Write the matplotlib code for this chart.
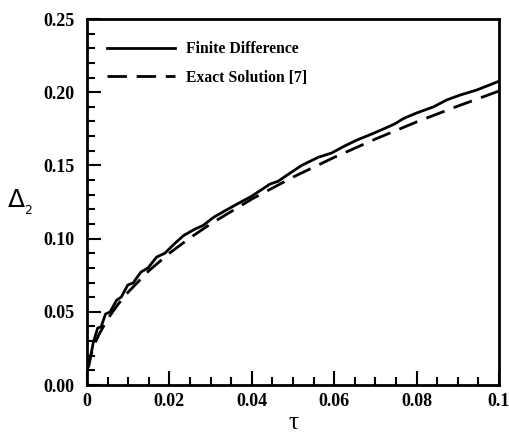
import numpy as np
import matplotlib
matplotlib.use("Agg")
from matplotlib import pyplot as plt
from matplotlib.ticker import MultipleLocator, FixedFormatter, FixedLocator

# values
tau_fd = [0.0, 0.0005, 0.0015, 0.0026, 0.0034, 0.0045, 0.0056, 0.0072, 0.0083,
          0.0099, 0.0112, 0.0131, 0.0148, 0.0169, 0.0189, 0.0209, 0.0234, 0.0262,
          0.0282, 0.0307, 0.0335, 0.0367, 0.0400, 0.0424, 0.0444, 0.0464, 0.0489,
          0.0521, 0.0561, 0.0594, 0.0622, 0.0655, 0.0691, 0.0723, 0.0748, 0.0768,
          0.0800, 0.0841, 0.0873, 0.0905, 0.0946, 0.1000]
delta_fd = [0.010, 0.0137, 0.0287, 0.0390, 0.0396, 0.0485, 0.0499, 0.0580, 0.0600,
            0.0683, 0.0697, 0.0772, 0.0799, 0.0874, 0.0900, 0.0956, 0.1020, 0.1065,
            0.1090, 0.1145, 0.1190, 0.1240, 0.1290, 0.1335, 0.1372, 0.1392, 0.1440,
            0.1500, 0.1555, 0.1585, 0.1628, 0.1673, 0.1714, 0.1753, 0.1785, 0.1820,
            0.1858, 0.1900, 0.1947, 0.1980, 0.2015, 0.2075]

tau_ex = [0.0, 0.0005, 0.001, 0.002, 0.003, 0.005, 0.0075, 0.01, 0.015, 0.02,
          0.025, 0.03, 0.04, 0.05, 0.06, 0.07, 0.08, 0.09, 0.1]
delta_ex = [0.010, 0.016, 0.021, 0.029, 0.035, 0.045, 0.055, 0.0635, 0.078, 0.090,
            0.1005, 0.110, 0.127, 0.142, 0.1555, 0.168, 0.1797, 0.1905, 0.2008]

x_ticks = [0, 0.02, 0.04, 0.06, 0.08, 0.1]
x_labels = ["0", "0.02", "0.04", "0.06", "0.08", "0.1"]
y_ticks = [0.0, 0.05, 0.10, 0.15, 0.20, 0.25]
y_labels = ["0.00", "0.05", "0.10", "0.15", "0.20", "0.25"]

serif = "Liberation Serif"

fig = plt.figure(figsize=(5.1, 4.34), dpi=100)
ax = fig.add_axes([87 / 510, 1 - 385 / 434, 412 / 510, 366 / 434])

ax.plot(tau_fd, delta_fd, color="black", lw=2.0, label="Finite Difference")
ax.plot(tau_ex, delta_ex, color="black", lw=2.0, ls=(0, (7, 3.5)), label="Exact Solution [7]")

ax.set_xlim(0, 0.1)
ax.set_ylim(0, 0.25)

ax.xaxis.set_major_locator(FixedLocator(x_ticks))
ax.xaxis.set_major_formatter(FixedFormatter(x_labels))
ax.xaxis.set_minor_locator(MultipleLocator(0.005))
ax.yaxis.set_major_locator(FixedLocator(y_ticks))
ax.yaxis.set_major_formatter(FixedFormatter(y_labels))
ax.yaxis.set_minor_locator(MultipleLocator(0.01))

ax.tick_params(which="both", direction="in", top=False, right=False, width=1.5)
ax.tick_params(which="major", length=10)
ax.tick_params(axis="x", which="major", pad=6)
ax.tick_params(axis="y", which="major", pad=9)
ax.tick_params(which="minor", length=6)
for lab in ax.get_xticklabels() + ax.get_yticklabels():
    lab.set_fontfamily(serif)
    lab.set_fontweight("bold")
    lab.set_fontsize(13)

for sp in ax.spines.values():
    sp.set_linewidth(2.0)

ax.set_xlabel("τ", fontfamily=serif, fontsize=18, labelpad=1)
ax.set_ylabel(r"$\Delta_{_2}$", fontsize=18, rotation=0, labelpad=17, va="center")

leg = ax.legend(loc="upper left", bbox_to_anchor=(-0.012, 1.008), frameon=False,
                handlelength=4.3, handletextpad=0.7, labelspacing=0.8, borderaxespad=1.2,
                prop={"family": serif, "weight": "bold", "size": 11.3})

fig.savefig("out.png", dpi=100)
